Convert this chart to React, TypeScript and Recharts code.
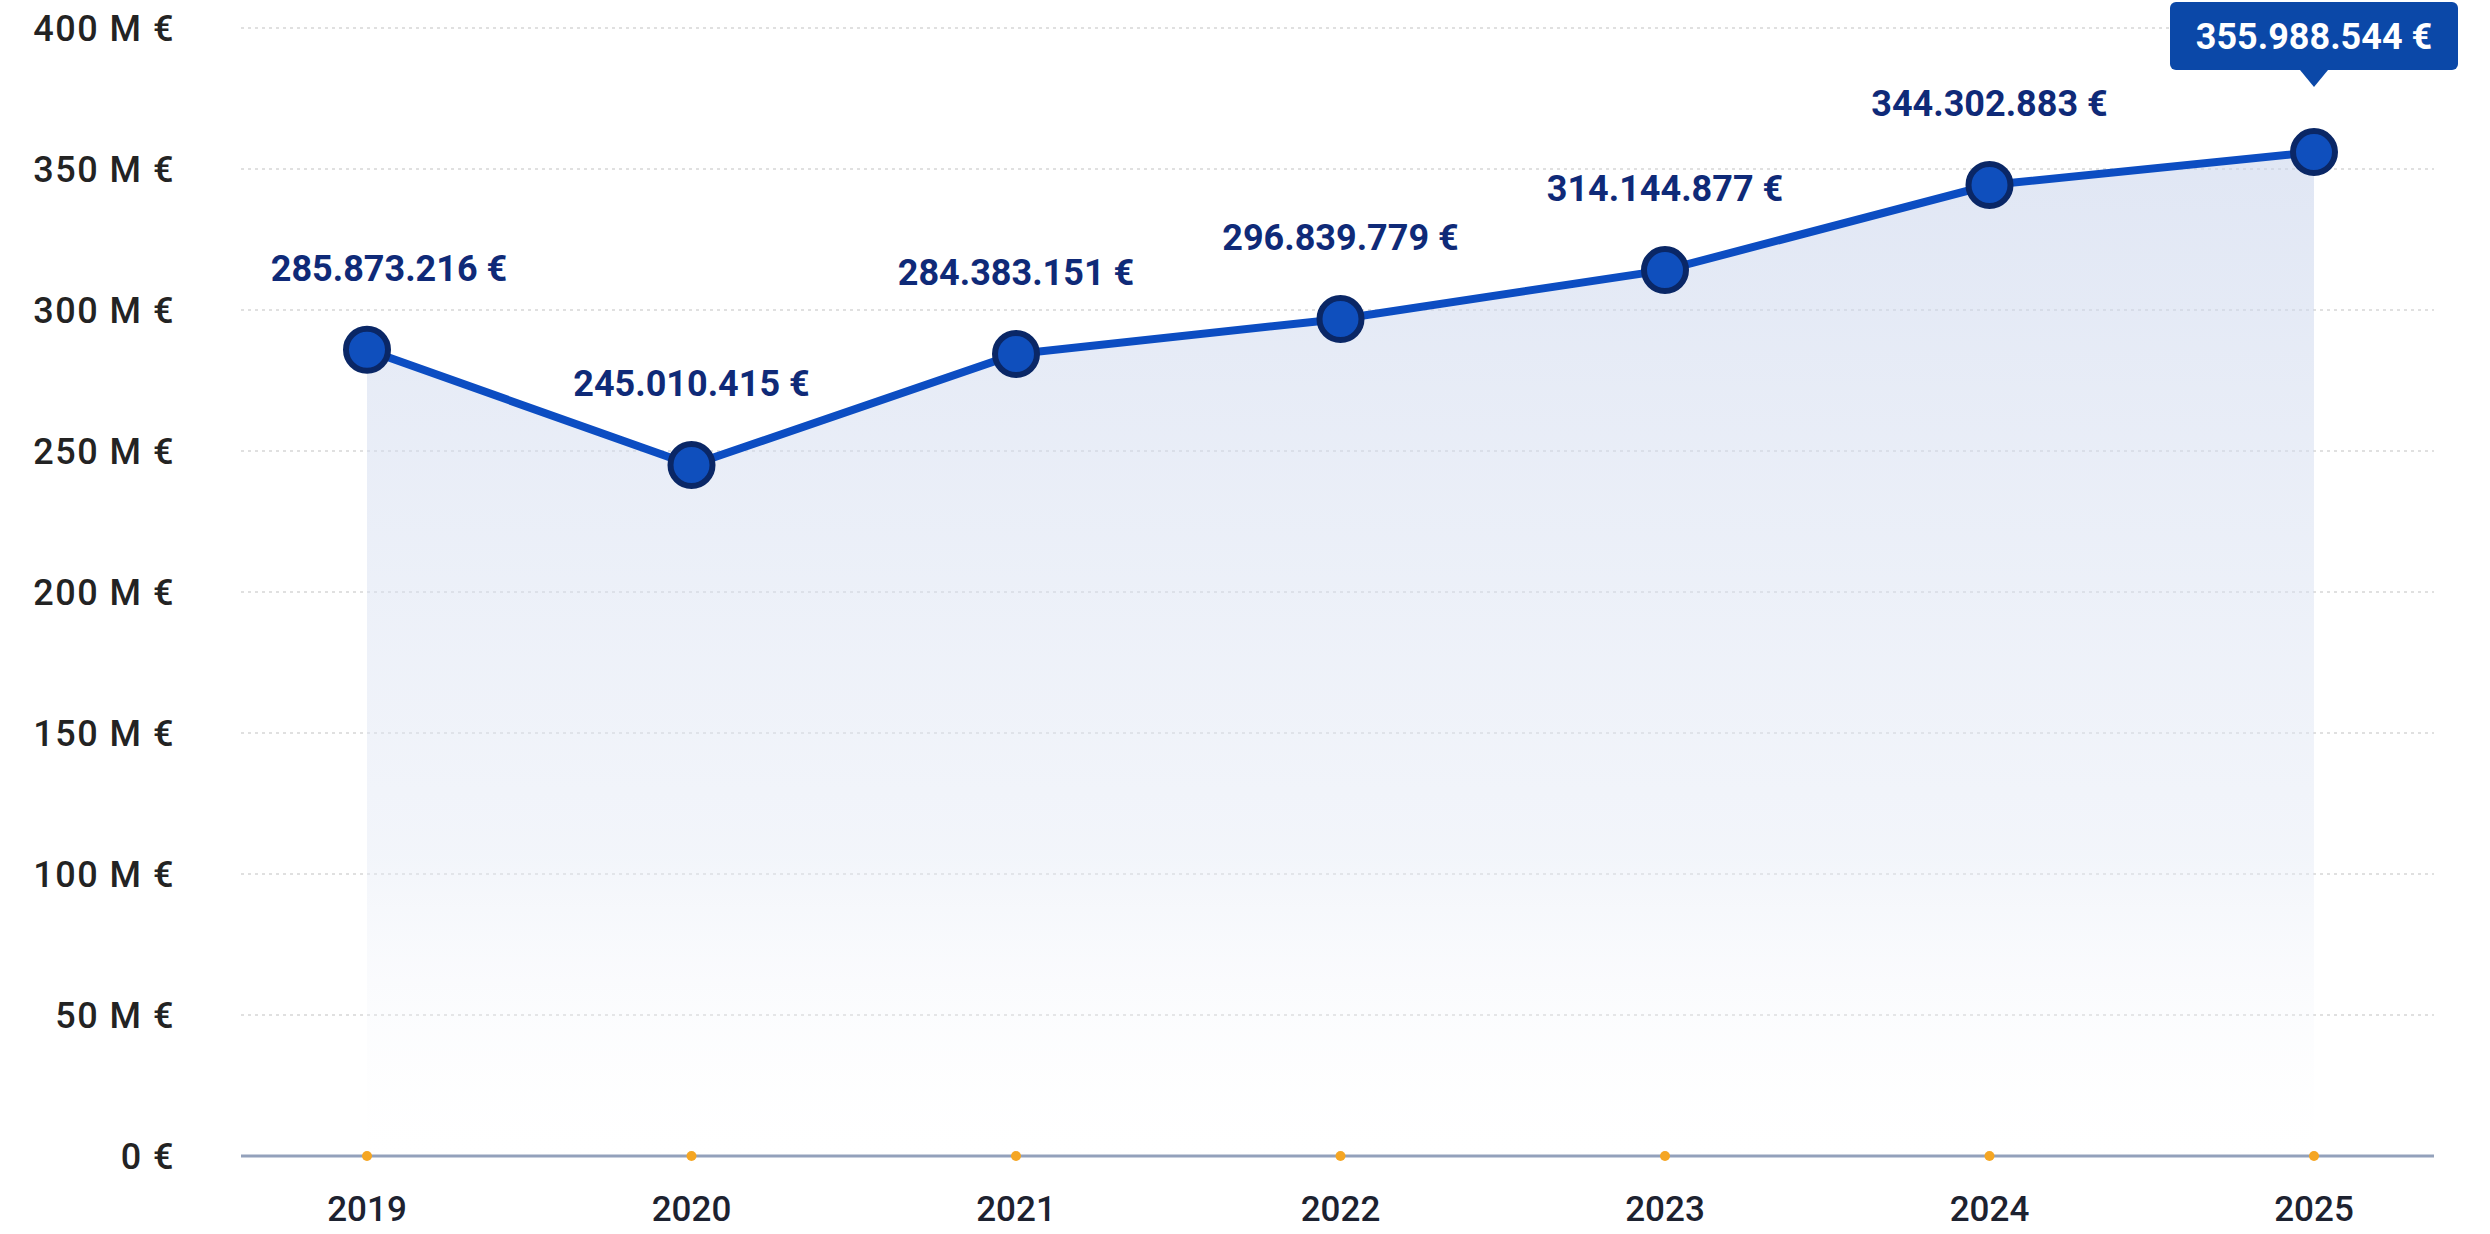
import React from "react";
import {
  ComposedChart,
  Area,
  Line,
  XAxis,
  YAxis,
  CartesianGrid,
  LabelList,
} from "recharts";

const years = ["2019", "2020", "2021", "2022", "2023", "2024", "2025"];
const revenue = [
  285873216, 245010415, 284383151, 296839779, 314144877, 344302883, 355988544,
];
const yTicks = [0, 50e6, 100e6, 150e6, 200e6, 250e6, 300e6, 350e6, 400e6];

const data = years.map((year, i) => ({ year, value: revenue[i] }));

const FONT = "Roboto, 'Noto Sans', sans-serif";
const X_TICK_GAP = 40;

// 285873216 -> "285.873.216 €"
const fmtEuro = (v: number) =>
  String(Math.round(v)).replace(/\B(?=(\d{3})+(?!\d))/g, ".") + " €";

const fmtAxis = (v: number) => (v === 0 ? "0 €" : `${v / 1e6} M €`);

function YearTick(props: any) {
  const { x, y, payload } = props;
  return (
    <g>
      {/* orange marker sitting on the axis line */}
      <circle cx={x} cy={y - X_TICK_GAP} r={5} fill="#f5a623" />
      <text
        x={x}
        y={y}
        dy="0.71em"
        textAnchor="middle"
        fill="#1d2230"
        fontFamily={FONT}
        fontWeight={500}
        fontSize={35}
      >
        {payload.value}
      </text>
    </g>
  );
}

function PointLabel(props: any) {
  const { x, y, value, index } = props;
  const text = fmtEuro(value);
  if (index === revenue.length - 1) {
    // last point gets the highlighted bubble
    const w = 288;
    const h = 68;
    const bottom = y - 82;
    return (
      <g>
        <rect x={x - w / 2} y={bottom - h} width={w} height={h} rx={6} fill="#0b48a8" />
        <path
          d={`M${x - 14},${bottom} L${x},${bottom + 17} L${x + 14},${bottom} Z`}
          fill="#0b48a8"
        />
        <text
          x={x}
          y={bottom - h / 2}
          dy="0.36em"
          textAnchor="middle"
          fill="#ffffff"
          fontFamily={FONT}
          fontWeight={700}
          fontSize={36}
        >
          {text}
        </text>
      </g>
    );
  }
  return (
    <text
      x={index === 0 ? x + 22 : x}
      y={y - 82}
      dy="0.36em"
      textAnchor="middle"
      fill="#0f2a78"
      fontFamily={FONT}
      fontWeight={700}
      fontSize={36}
    >
      {text}
    </text>
  );
}

export default function App() {
  return (
    <div
      style={{
        position: "absolute",
        left: 0,
        top: 0,
        width: 2490,
        height: 1234,
        background: "#ffffff",
      }}
    >
      <ComposedChart
        width={2490}
        height={1234}
        data={data}
        margin={{ top: 28, right: 56, bottom: 0, left: 0 }}
      >
        <defs>
          <linearGradient id="revFill" x1="0" y1="0" x2="0" y2="1">
            <stop offset="0%" stopColor="#c9d4ec" stopOpacity={0.95} />
            <stop offset="70%" stopColor="#e3e9f5" stopOpacity={0.75} />
            <stop offset="100%" stopColor="#ffffff" stopOpacity={0.2} />
          </linearGradient>
        </defs>
        <CartesianGrid
          vertical={false}
          stroke="#d6d6d6"
          strokeDasharray="3 4"
          strokeWidth={1.5}
        />
        <XAxis
          dataKey="year"
          scale="point"
          padding={{ left: 126, right: 120 }}
          height={78}
          tickSize={0}
          tickMargin={X_TICK_GAP}
          axisLine={{ stroke: "#93a1bb", strokeWidth: 3 }}
          tickLine={false}
          tick={<YearTick />}
          interval={0}
        />
        <YAxis
          width={241}
          domain={[0, 400e6]}
          ticks={yTicks}
          tickFormatter={fmtAxis}
          axisLine={false}
          tickLine={false}
          tickSize={0}
          tickMargin={66}
          tick={{
            fill: "#232323",
            fontSize: 36,
            fontFamily: FONT,
            fontWeight: 500,
            letterSpacing: 1.5,
          }}
        />
        <Area
          type="linear"
          dataKey="value"
          stroke="none"
          fill="url(#revFill)"
          isAnimationActive={false}
        />
        <Line
          type="linear"
          dataKey="value"
          stroke="#0c4dc2"
          strokeWidth={8}
          dot={{ r: 21, fill: "#0f4fbd", stroke: "#0a2766", strokeWidth: 6 }}
          activeDot={false}
          isAnimationActive={false}
        >
          <LabelList dataKey="value" content={<PointLabel />} />
        </Line>
      </ComposedChart>
    </div>
  );
}
